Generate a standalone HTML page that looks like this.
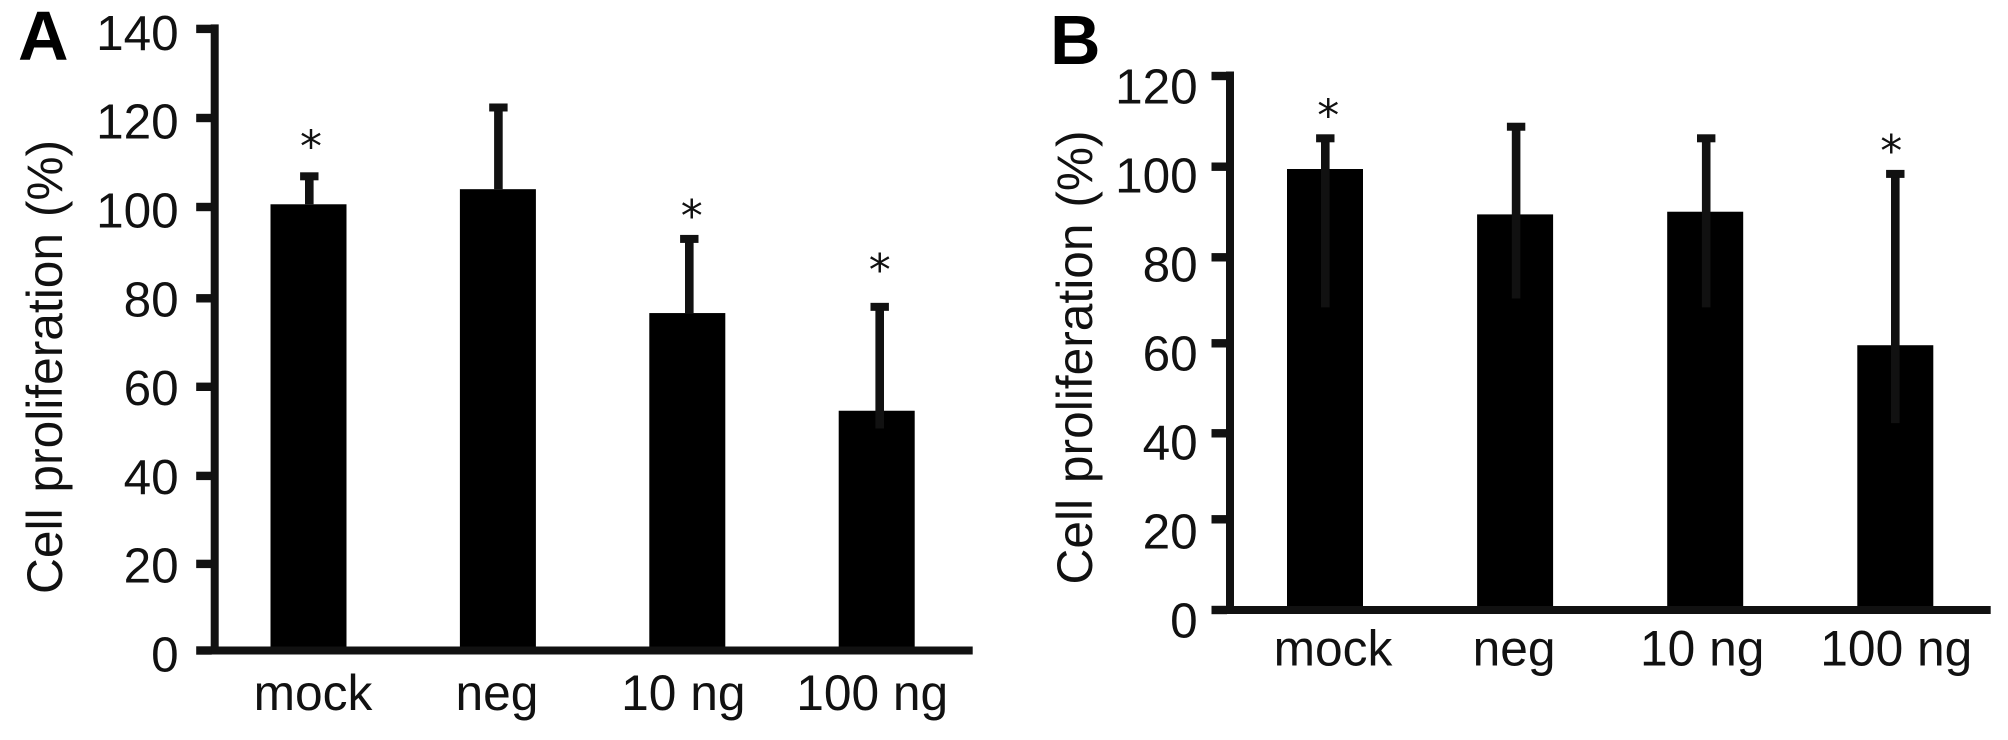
<!DOCTYPE html>
<html lang="en">
<head>
<meta charset="utf-8">
<title>Cell proliferation bar charts</title>
<style>
html,body{margin:0;padding:0;background:#fff;width:2008px;height:740px;overflow:hidden}
svg{display:block}
text{font-family:"Liberation Sans",Arial,sans-serif;fill:#111}
</style>
</head>
<body>
<svg id="figure" xmlns="http://www.w3.org/2000/svg" width="2008" height="740" viewBox="0 0 2008 740">
  <rect x="0" y="0" width="2008" height="740" fill="#fff"/>
  <g id="panel-a">
    <text x="18" y="60" font-size="70" font-weight="bold" style="fill:#000">A</text>
    <text transform="translate(62 594) rotate(-90)" font-size="49.7" word-spacing="2">Cell proliferation (%)</text>
  </g>
  <g id="panel-b">
    <text x="1050" y="64" font-size="70" font-weight="bold" style="fill:#000">B</text>
    <text transform="translate(1092 584.5) rotate(-90)" font-size="49.7" word-spacing="2">Cell proliferation (%)</text>
  </g>
</svg>
<script>
// Shared categories
const categories = ["mock", "neg", "10 ng", "100 ng"];

// Panel A data
const ticksA = [0, 20, 40, 60, 80, 100, 120, 140];
const valuesA = [100.5, 103.9, 76, 54];
const errorUpperA = [106.8, 122.3, 92.7, 77.4];
const errorLowerA = [100.5, 103.9, 76, 50];
const starsA = [114.8, null, 99.1, 86.9];

// Panel B data
const ticksB = [0, 20, 40, 60, 80, 100, 120];
const valuesB = [99.1, 88.9, 89.5, 59.5];
const errorUpperB = [106, 108.6, 106, 98];
const errorLowerB = [68, 70, 68, 42];
const starsB = [112.4, null, null, 104.4];

const SVG_NS = "http://www.w3.org/2000/svg";

function shape(parent, tag, attrs, content) {
  const el = document.createElementNS(SVG_NS, tag);
  for (const k in attrs) el.setAttribute(k, attrs[k]);
  if (content !== undefined) el.textContent = content;
  parent.appendChild(el);
  return el;
}

function drawPanel(cfg) {
  const root = document.getElementById(cfg.id);
  const y = v => cfg.y0 - v * cfg.yPerUnit;
  const barX = i => cfg.barStart + i * cfg.barStep;
  const stemX = i => barX(i) + cfg.barWidth / 2 + cfg.stemNudge[i];
  const labelX = i => barX(i) + cfg.barWidth / 2 + cfg.labelNudge[i];

  // bars
  cfg.values.forEach((v, i) => {
    const bar = shape(root, "rect", {
      x: barX(i), y: y(v), width: cfg.barWidth, height: cfg.y0 - y(v), fill: "#000"
    });
    
    
  });

  // error bars
  cfg.upper.forEach((u, i) => {
    const stem = shape(root, "rect", {
      x: stemX(i) - 4.3, y: y(u), width: 8.6, height: y(cfg.lower[i]) - y(u), fill: "#111"
    });
    
    
    const cap = shape(root, "rect", {
      x: stemX(i) - 9.2, y: y(u) - 4, width: 18.4, height: 8, fill: "#111"
    });
    
    
  });

  // significance markers
  cfg.stars.forEach((s, i) => {
    if (s === null) return;
    const star = shape(root, "text", {
      x: stemX(i) + cfg.starNudge[i], y: y(s) + 20.5, "text-anchor": "middle", "font-size": 44
    }, "*");
    star.style.fontFamily = '"DejaVu Sans", sans-serif';
    
    
  });

  // y axis line
  const top = y(cfg.ticks[cfg.ticks.length - 1]) - 4.5;
  const yAxis = shape(root, "rect", {
    x: cfg.axisX, y: top, width: 8, height: cfg.y0 - top, fill: "#111"
  });
  
  

  // x axis line
  const xAxis = shape(root, "rect", {
    x: cfg.axisX - 14, y: cfg.y0 - 4, width: cfg.xAxisEnd - cfg.axisX + 14, height: 8, fill: "#111"
  });
  
  

  // y ticks and labels (tick marks in the source figure sit slightly off their labels)
  cfg.ticks.forEach((t, i) => {
    const tick = shape(root, "rect", {
      x: cfg.axisX - 14.5, y: y(t) + cfg.tickNudge[i] - 4.2, width: 15.5, height: 8.4, fill: "#111"
    });
    
    
    const lab = shape(root, "text", {
      x: cfg.tickLabelRight, y: y(t) + cfg.tickLabelDrop, "text-anchor": "end", "font-size": 49.5
    }, String(t));
    
    
  });

  // category labels
  categories.forEach((c, i) => {
    const lab = shape(root, "text", {
      x: labelX(i), y: cfg.labelY, "text-anchor": "middle", "font-size": 49.7
    }, c);
    
    
  });
}

drawPanel({
  id: "panel-a", key: "a",
  ticks: ticksA, values: valuesA, upper: errorUpperA, lower: errorLowerA, stars: starsA,
  y0: 650.5, yPerUnit: 4.44,
  axisX: 210.7, xAxisEnd: 972.7, tickLabelRight: 178.7, tickLabelDrop: 21,
  tickNudge: [0, 2.2, 3, 2.7, 3, 0.5, 0.3, 0],
  barStart: 270.5, barStep: 189.4, barWidth: 76, labelY: 710,
  stemNudge: [0.8, 0.5, 2, 3], labelNudge: [4.5, -1, -4, -4.5], starNudge: [1.7, 0, 2.5, 0]
});

drawPanel({
  id: "panel-b", key: "b",
  ticks: ticksB, values: valuesB, upper: errorUpperB, lower: errorLowerB, stars: starsB,
  y0: 610, yPerUnit: 4.45,
  axisX: 1226, xAxisEnd: 1990.7, tickLabelRight: 1197.7, tickLabelDrop: 27.5,
  tickNudge: [0, -1.7, 1.3, 0.3, 3.3, 1.7, 0],
  barStart: 1287, barStep: 190.1, barWidth: 76, labelY: 665.5,
  stemNudge: [0.3, 1, 1, 0], labelNudge: [8, -1, -3, 1], starNudge: [3, 0, 0, -4]
});
</script>
</body>
</html>
